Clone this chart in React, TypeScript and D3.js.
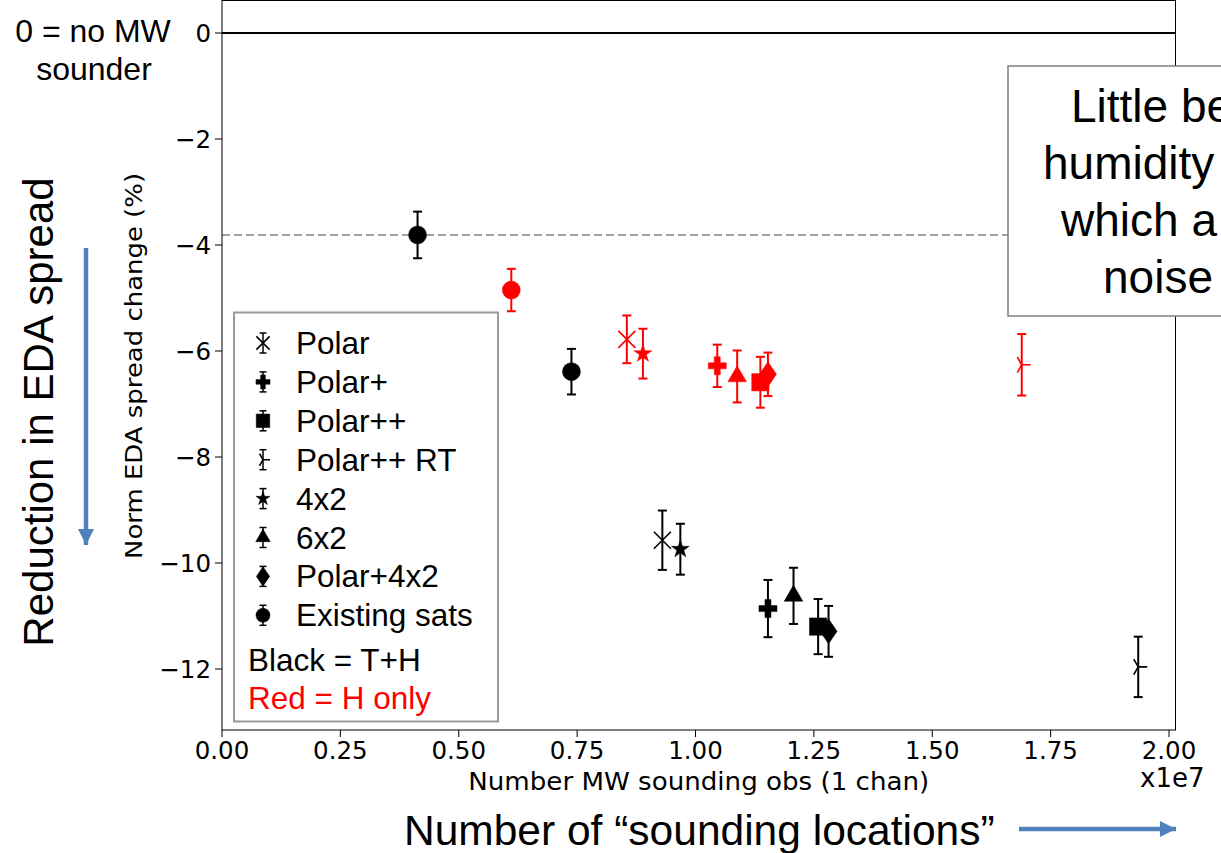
import React from 'react';
import * as d3 from 'd3';

// ---------- data ----------
const configNames = ['Polar', 'Polar+', 'Polar++', 'Polar++ RT', '4x2', '6x2', 'Polar+4x2', 'Existing sats'];

// Black = T+H
const thConfig = ['Existing sats', 'Existing sats', 'Polar', '4x2', 'Polar+', '6x2', 'Polar++', 'Polar+4x2', 'Polar++ RT'];
const thObs = [0.413, 0.738, 0.93, 0.968, 1.153, 1.207, 1.259, 1.281, 1.935];
const thChange = [-3.81, -6.39, -9.57, -9.74, -10.86, -10.62, -11.2, -11.29, -11.96];
const thErr = [0.44, 0.43, 0.56, 0.48, 0.54, 0.53, 0.52, 0.48, 0.57];

// Red = H only
const hConfig = ['Existing sats', 'Polar', '4x2', 'Polar+', '6x2', 'Polar++', 'Polar+4x2', 'Polar++ RT'];
const hObs = [0.611, 0.855, 0.889, 1.046, 1.088, 1.137, 1.153, 1.689];
const hChange = [-4.85, -5.78, -6.05, -6.28, -6.48, -6.59, -6.44, -6.26];
const hErr = [0.4, 0.45, 0.47, 0.4, 0.49, 0.48, 0.41, 0.58];

const xTicks = [0, 0.25, 0.5, 0.75, 1.0, 1.25, 1.5, 1.75, 2.0];
const yTicks = [0, -2, -4, -6, -8, -10, -12];
const refLevel = -3.81; // existing sats T+H reference (dashed)

const boxLines = ['Little be', 'humidity', 'which a', 'noise'];

// ---------- symbols ----------
const thinX = {
  draw(ctx: any, size: number) {
    const r = Math.sqrt(size) / 2;
    ctx.moveTo(-r, -r); ctx.lineTo(r, r);
    ctx.moveTo(r, -r); ctx.lineTo(-r, r);
  },
};
const triLeft = {
  draw(ctx: any, size: number) {
    const r = Math.sqrt(size) / 2;
    ctx.moveTo(0, 0); ctx.lineTo(r, 0);
    ctx.moveTo(0, 0); ctx.lineTo(-r * 0.5, -r * 0.866);
    ctx.moveTo(0, 0); ctx.lineTo(-r * 0.5, r * 0.866);
  },
};
const thinDiamond = {
  draw(ctx: any, size: number) {
    const h = Math.sqrt(size) / 2;
    const w = h * 0.68;
    ctx.moveTo(0, -h); ctx.lineTo(w, 0); ctx.lineTo(0, h); ctx.lineTo(-w, 0); ctx.closePath();
  },
};

const markerSpec: Record<string, { type: any; size: number; filled: boolean }> = {
  'Polar': { type: thinX, size: 289, filled: false },
  'Polar+': { type: d3.symbolCross, size: 180, filled: true },
  'Polar++': { type: d3.symbolSquare, size: 300, filled: true },
  'Polar++ RT': { type: triLeft, size: 324, filled: false },
  '4x2': { type: d3.symbolStar, size: 100, filled: true },
  '6x2': { type: d3.symbolTriangle, size: 150, filled: true },
  'Polar+4x2': { type: thinDiamond, size: 625, filled: true },
  'Existing sats': { type: d3.symbolCircle, size: 254, filled: true },
};

// ---------- layout ----------
const W = 1221, H = 853;
const plotL = 222, plotR = 1175.5, plotT = 0.5, plotB = 730;

const x = d3.scaleLinear().domain([0, 2]).range([222, 1169]);
const y = d3.scaleLinear().domain([-12, 0]).range([669, 33]);
const fmtX = d3.format('.2f');
const fmtY = d3.format('d');

const BLUE = '#4F81BD';
const sans = '"Liberation Sans", Arial, sans-serif';
const mpl = '"DejaVu Sans", sans-serif';

function Marker({ cx, cy, name, color, scale = 1 }: any) {
  const spec = markerSpec[name];
  const d = d3.symbol().type(spec.type).size(spec.size * scale * scale)() as string;
  return (
    <path
      d={d}
      transform={`translate(${cx},${cy})`}
      fill={spec.filled ? color : 'none'}
      stroke={color}
      strokeWidth={spec.filled ? 0.5 : 1.6}
    />
  );
}

function ErrPoint({ xv, yv, ev, name, color }: any) {
  const cx = x(xv), cy = y(yv);
  const y1 = y(yv + ev), y2 = y(yv - ev);
  return (
    <g>
      <line x1={cx} x2={cx} y1={y1} y2={y2} stroke={color} strokeWidth={2} />
      <line x1={cx - 4.5} x2={cx + 4.5} y1={y1} y2={y1} stroke={color} strokeWidth={2} />
      <line x1={cx - 4.5} x2={cx + 4.5} y1={y2} y2={y2} stroke={color} strokeWidth={2} />
      <Marker cx={cx} cy={cy} name={name} color={color} />
    </g>
  );
}

export default function App() {
  const legTop = 343, legStep = 38.9;
  return (
    <svg width={W} height={H} style={{ position: 'absolute', left: 0, top: 0, background: '#fff' }}>
      <defs>
        <marker id="ah" viewBox="0 0 10 10" refX="10" refY="5" markerWidth="3.6" markerHeight="3.6" orient="auto" markerUnits="strokeWidth">
          <path d="M0,0 L10,5 L0,10 z" fill={BLUE} />
        </marker>
      </defs>
      <rect x={0} y={0} width={W} height={H} fill="#fff" />

      {/* zero line and reference */}
      <line x1={plotL} x2={plotR} y1={y(0)} y2={y(0)} stroke="#000" strokeWidth={2} />
      <line x1={plotL} x2={plotR} y1={y(refLevel)} y2={y(refLevel)} stroke="#808080" strokeWidth={1.5} strokeDasharray="8,4" />

      {/* frame */}
      <rect x={plotL} y={plotT} width={plotR - plotL} height={plotB - plotT} fill="none" stroke="#000" strokeWidth={1} />

      {/* y ticks */}
      {yTicks.map((t) => (
        <g key={'y' + t}>
          <line x1={plotL - 7} x2={plotL} y1={y(t)} y2={y(t)} stroke="#000" strokeWidth={1} />
          <text x={plotL - 11} y={y(t)} dy="0.36em" textAnchor="end" fontFamily={mpl} fontSize={24.5} fill="#000">
            {fmtY(t)}
          </text>
        </g>
      ))}
      {/* x ticks */}
      {xTicks.map((t) => (
        <g key={'x' + t}>
          <line x1={x(t)} x2={x(t)} y1={plotB} y2={plotB + 7} stroke="#000" strokeWidth={1} />
          <text x={x(t)} y={759} textAnchor="middle" fontFamily={mpl} fontSize={24.5} fill="#000">
            {fmtX(t)}
          </text>
        </g>
      ))}
      <text x={1140} y={787} fontFamily={mpl} fontSize={26} fill="#000">x1e7</text>

      <text x={(plotL + plotR) / 2} y={790} textAnchor="middle" fontFamily={mpl} fontSize={24} textLength={461} lengthAdjust="spacingAndGlyphs" fill="#000">
        Number MW sounding obs (1 chan)
      </text>
      <text transform={`translate(142,366) rotate(-90)`} textAnchor="middle" fontFamily={mpl} fontSize={23} textLength={386} lengthAdjust="spacingAndGlyphs" fill="#000">
        Norm EDA spread change (%)
      </text>

      {/* data: black T+H */}
      {thObs.map((v, i) => (
        <ErrPoint key={'th' + i} xv={v} yv={thChange[i]} ev={thErr[i]} name={thConfig[i]} color="#000" />
      ))}
      {/* data: red H only */}
      {hObs.map((v, i) => (
        <ErrPoint key={'h' + i} xv={v} yv={hChange[i]} ev={hErr[i]} name={hConfig[i]} color="#ff0000" />
      ))}

      {/* legend */}
      <rect x={234} y={312.5} width={264} height={409} fill="#fff" stroke="#999" strokeWidth={2} />
      {configNames.map((n, i) => {
        const cy = legTop + i * legStep;
        return (
          <g key={'lg' + n}>
            <line x1={263} x2={263} y1={cy - 10} y2={cy + 10} stroke="#000" strokeWidth={1.5} />
            <line x1={259.5} x2={266.5} y1={cy - 10} y2={cy - 10} stroke="#000" strokeWidth={1.5} />
            <line x1={259.5} x2={266.5} y1={cy + 10} y2={cy + 10} stroke="#000" strokeWidth={1.5} />
            <Marker cx={263} cy={cy} name={n} color="#000" scale={0.78} />
            <text x={296} y={cy + 11} fontFamily={sans} fontSize={31.5} fill="#000">{n}</text>
          </g>
        );
      })}
      <text x={248} y={671} fontFamily={sans} fontSize={31.5} fill="#000">Black = T+H</text>
      <text x={248} y={709} fontFamily={sans} fontSize={31.5} fill="#ff0000">Red = H only</text>

      {/* annotations */}
      <text x={93} y={42} textAnchor="middle" fontFamily={sans} fontSize={32} fill="#000">0 = no MW</text>
      <text x={94} y={80} textAnchor="middle" fontFamily={sans} fontSize={32} fill="#000">sounder</text>

      <text transform="translate(53,412) rotate(-90)" textAnchor="middle" fontFamily={sans} fontSize={42} fill="#000">
        Reduction in EDA spread
      </text>
      <line x1={86} x2={86} y1={248} y2={545} stroke={BLUE} strokeWidth={4.5} markerEnd="url(#ah)" />

      <text x={404} y={845} fontFamily={sans} fontSize={42.5} fill="#000">Number of “sounding locations”</text>
      <line x1={1019} x2={1176} y1={829} y2={829} stroke={BLUE} strokeWidth={4.5} markerEnd="url(#ah)" />

      {/* text box on right (cut off by the page edge, as in the reference) */}
      <rect x={1008} y={66} width={240} height={250} fill="#fff" stroke="#7f7f7f" strokeWidth={1.5} />
      {boxLines.map((s, i) => (
        <text key={'bx' + i} x={[1071, 1043, 1061, 1103][i]} y={[122, 179, 236, 293][i]} fontFamily={sans} fontSize={46} fill="#000">
          {s}
        </text>
      ))}
    </svg>
  );
}
